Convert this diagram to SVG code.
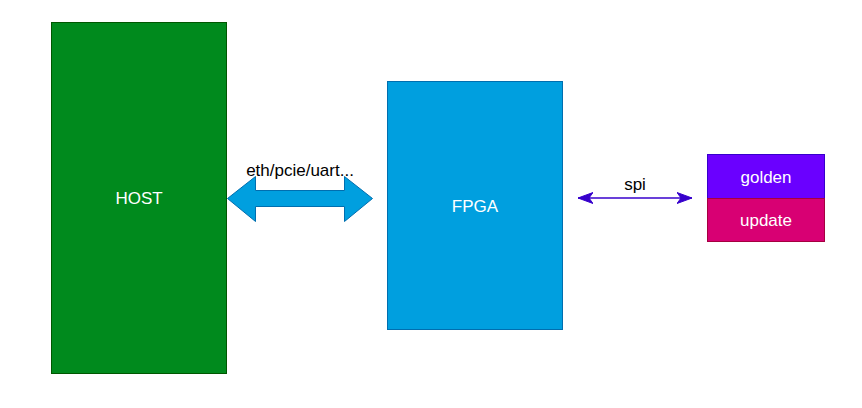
<svg xmlns="http://www.w3.org/2000/svg" width="862" height="408" viewBox="0 0 862 408">
<style>
text{font-family:"Liberation Sans",Arial,sans-serif;font-size:17px;text-anchor:middle;dominant-baseline:central}
.w{fill:#ffffff}
.k{fill:#000000}
</style>
<defs>
<marker id="ah" viewBox="0 0 16 12" refX="15" refY="6" markerWidth="16" markerHeight="12" orient="auto-start-reverse" markerUnits="userSpaceOnUse">
<path d="M0,0.5 L15,6 L0,11.5 L4,6 Z" fill="#3700cc" stroke="#3700cc" stroke-width="1"/>
</marker>
</defs>
<rect width="862" height="408" fill="#ffffff"/>
<g id="host">
<rect x="51.5" y="22.5" width="175" height="351" fill="#008a1d" stroke="#005700"/>
<text x="139" y="198" class="w">HOST</text>
</g>
<g id="fpga">
<rect x="387.5" y="81.5" width="175" height="248" fill="#009fdf" stroke="#006eaf"/>
<text x="475" y="206" class="w">FPGA</text>
</g>
<g id="golden">
<rect x="707.5" y="154.5" width="117" height="44" fill="#6a00ff" stroke="#3700cc"/>
<text x="766" y="177" class="w">golden</text>
</g>
<g id="update">
<rect x="707.5" y="198.5" width="117" height="43" fill="#d80073" stroke="#a50040"/>
<text x="766" y="220" class="w">update</text>
</g>
<g id="connectors">
<path d="M227.5,198.5 L255.5,176.5 L255.5,190.5 L344.5,190.5 L344.5,176.5 L372.5,198.5 L344.5,221.5 L344.5,206.5 L255.5,206.5 L255.5,221.5 Z" fill="#009fdf" stroke="#006eaf"/>
<text x="300" y="170" class="k">eth/pcie/uart...</text>
<line x1="578" y1="198" x2="692" y2="198" stroke="#3700cc" stroke-width="1.5" marker-start="url(#ah)" marker-end="url(#ah)"/>
<text x="635" y="184" class="k">spi</text>
</g>
</svg>
